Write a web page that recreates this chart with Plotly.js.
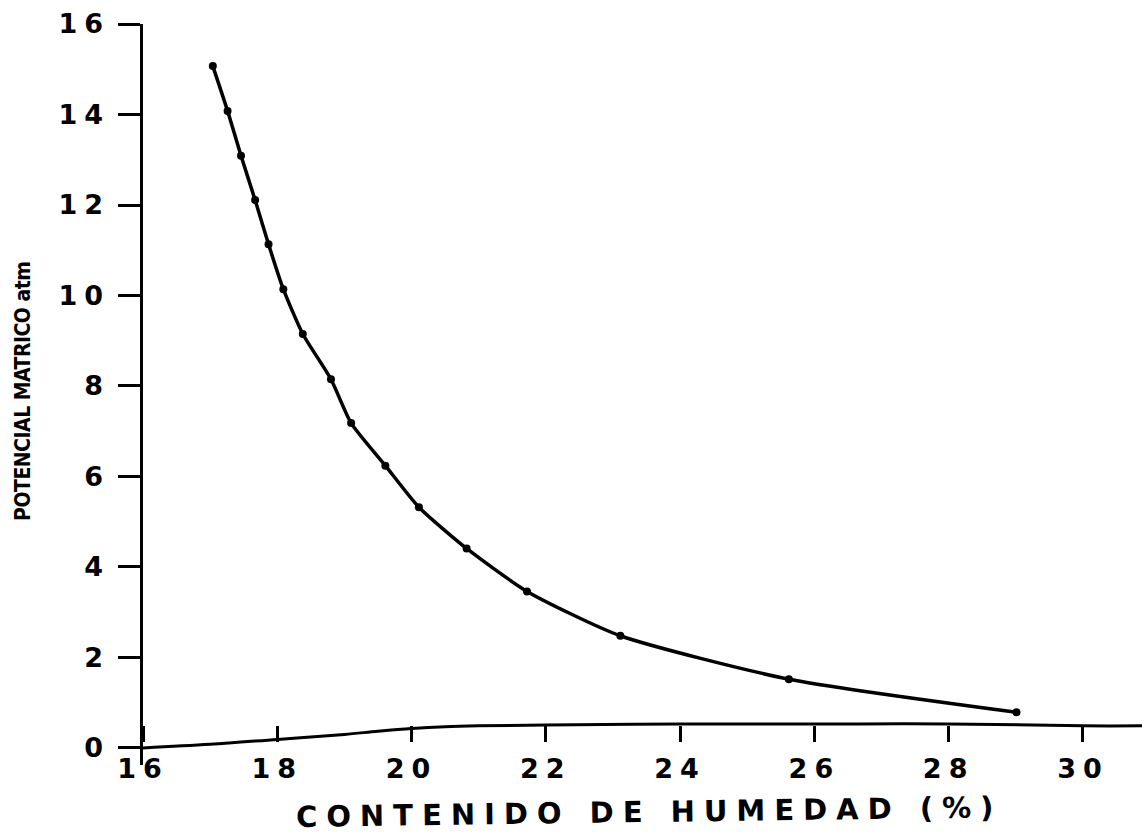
<!DOCTYPE html>
<html>
<head>
<meta charset="utf-8">
<script src="https://cdn.plot.ly/plotly-3.0.1.min.js"></script>
<style>
  html, body { margin: 0; padding: 0; background: #fff; }
  #chart { width: 1142px; height: 834px; }
  .ytick text { letter-spacing: 7px; }
  .xtick text { letter-spacing: 7px; }
  .annotation[data-index="0"] .annotation-text { letter-spacing: 9px; }
  .annotation[data-index="1"] .annotation-text { letter-spacing: -0.5px; }
</style>
</head>
<body>
<div id="chart"></div>
<script>
// Moisture content (%) and matric potential (atm)
const humedad = [17.04, 17.26, 17.46, 17.67, 17.87, 18.09, 18.38, 18.80, 19.10, 19.61, 20.11, 20.82, 21.72, 23.11, 25.62, 29.01];
const potencial = [15.07, 14.08, 13.09, 12.11, 11.13, 10.14, 9.15, 8.15, 7.18, 6.24, 5.32, 4.41, 3.46, 2.48, 1.52, 0.79];

// Drawn (slightly curved) baseline of the original plot
const baseX = [16, 17, 18, 19, 19.5, 20, 20.5, 21, 22, 24, 26, 28, 30, 30.88];
const baseY = [0, 0.08, 0.19, 0.30, 0.37, 0.43, 0.47, 0.49, 0.51, 0.53, 0.53, 0.53, 0.49, 0.49];

// Tick values and labels
const xTickVals = [16, 18, 20, 22, 24, 26, 28, 30];
const xTickText = ['16', '18', '20', '22', '24', '26', '28', '30'];
const yTickVals = [0, 2, 4, 6, 8, 10, 12, 14, 16];
const yTickText = ['0', '2', '4', '6', '8', '10', '12', '14', '16'];

const xTitle = 'CONTENIDO DE HUMEDAD (%)';
const yTitle = 'POTENCIAL MATRICO atm';

const tickFont = { family: 'DejaVu Sans, sans-serif', size: 27, color: '#000', weight: 'bold' };

const traces = [
  {
    x: baseX, y: baseY, type: 'scatter', mode: 'lines',
    line: { color: '#000', width: 3, shape: 'spline', smoothing: 1 },
    hoverinfo: 'skip', showlegend: false
  },
  {
    x: humedad, y: potencial, type: 'scatter', mode: 'lines+markers',
    line: { color: '#000', width: 3.5, shape: 'spline', smoothing: 0.6 },
    marker: { color: '#000', size: 8, symbol: 'circle' },
    showlegend: false
  }
];

const layout = {
  width: 1142, height: 834,
  margin: { l: 143, r: 0, t: 24, b: 69 },
  paper_bgcolor: '#fff', plot_bgcolor: '#fff',
  showlegend: false,
  xaxis: {
    range: [16, 30.88],
    anchor: 'free', position: 0.0535,
    showline: false, showgrid: false, zeroline: false,
    tickmode: 'array', tickvals: xTickVals, ticktext: xTickText,
    ticks: 'outside', ticklen: 16, tickwidth: 3, tickcolor: '#000',
    ticklabelstandoff: 3,
    tickfont: tickFont
  },
  yaxis: {
    range: [-0.376, 16],
    showline: true, linecolor: '#000', linewidth: 3.5,
    showgrid: false, zeroline: false,
    tickmode: 'array', tickvals: yTickVals, ticktext: yTickText,
    ticks: 'outside', ticklen: 22, tickwidth: 3, tickcolor: '#000',
    ticklabelstandoff: 2,
    tickfont: tickFont
  },
  annotations: [
    {
      text: xTitle, xref: 'paper', yref: 'paper',
      x: 0.5065, y: -0.0634, xanchor: 'center', yanchor: 'middle',
      showarrow: false, textangle: -0.8,
      font: { family: 'DejaVu Sans, sans-serif', size: 29, color: '#000', weight: 'bold' }
    },
    {
      text: yTitle, xref: 'paper', yref: 'paper',
      x: -0.12, y: 0.5047, xanchor: 'center', yanchor: 'middle',
      showarrow: false, textangle: -90,
      font: { family: 'DejaVu Sans Condensed, DejaVu Sans, sans-serif', size: 21, color: '#000', weight: 'bold' }
    }
  ]
};

Plotly.newPlot('chart', traces, layout, { displayModeBar: false, staticPlot: true });
</script>
</body>
</html>
